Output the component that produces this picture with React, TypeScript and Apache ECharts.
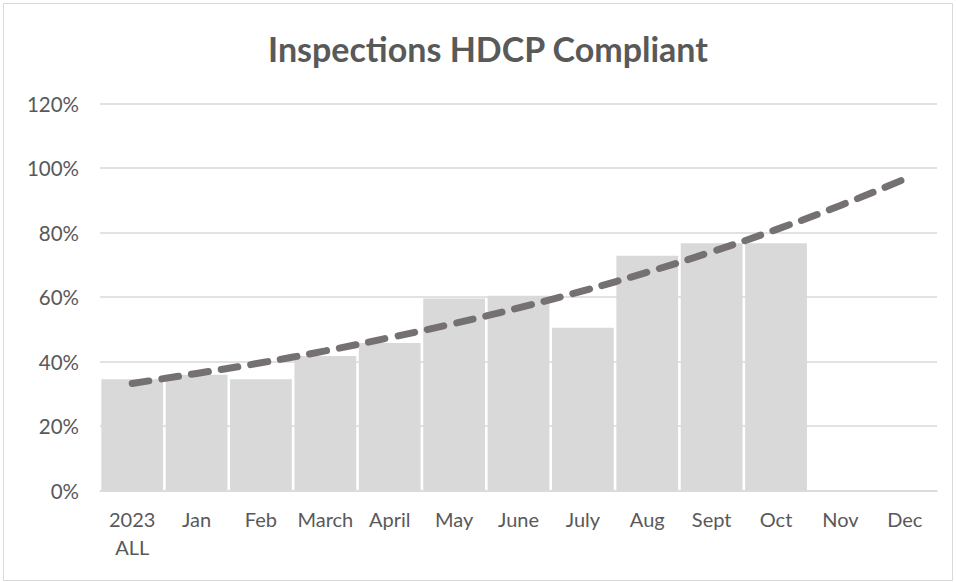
import React, { useEffect, useRef } from "react";
import * as echarts from "echarts";

const categories = ["2023\nALL", "Jan", "Feb", "March", "April", "May", "June", "July", "Aug", "Sept", "Oct", "Nov", "Dec"];
const compliant = [34.5, 35.9, 34.5, 41.7, 45.7, 59.5, 60.4, 50.5, 72.8, 76.7, 76.7, null, null];
const trend = [33.2, 36.3, 39.6, 43.3, 47.4, 51.8, 56.6, 61.9, 67.7, 74.0, 80.9, 88.4, 96.6];
const yTicks = [0, 20, 40, 60, 80, 100, 120];

export default function App() {
  const ref = useRef<HTMLDivElement>(null);
  useEffect(() => {
    if (!ref.current) return;
    const chart = echarts.init(ref.current, null, { renderer: "svg" });
    const font = "Lato, 'Noto Sans', sans-serif";
    chart.setOption({
      animation: false,
      backgroundColor: "#ffffff",
      title: {
        text: "Inspections HDCP Compliant",
        left: 483,
        textAlign: "center",
        top: 26,
        textStyle: { color: "#595959", fontSize: 34, fontWeight: "bold", fontFamily: font },
      },
      graphic: [
        {
          type: "rect",
          shape: { x: 3.5, y: 3.5, width: 949, height: 577 },
          style: { fill: "none", stroke: "#d9d9d9", lineWidth: 1 },
          silent: true,
        },
      ],
      grid: { left: 100, right: 19, top: 103.5, bottom: 91.5, containLabel: false },
      xAxis: {
        type: "category",
        data: categories,
        axisLine: { show: true, lineStyle: { color: "#d9d9d9", width: 1.5 } },
        axisTick: { show: false },
        axisLabel: { color: "#595959", fontSize: 20, fontFamily: font, margin: 14, lineHeight: 28, interval: 0 },
      },
      yAxis: {
        type: "value",
        min: 0,
        max: 120,
        interval: 20,
        axisLine: { show: false },
        axisTick: { show: false },
        splitLine: { lineStyle: { color: "#d9d9d9", width: 1.5 } },
        axisLabel: {
          color: "#595959",
          fontSize: 20.5,
          fontFamily: font,
          margin: 21,
          formatter: (v: number) => (yTicks.includes(v) ? v + "%" : ""),
        },
      },
      series: [
        {
          type: "bar",
          data: compliant,
          barCategoryGap: "4%",
          itemStyle: { color: "#d9d9d9" },
          z: 2,
        },
        {
          type: "line",
          data: trend,
          smooth: true,
          symbol: "none",
          lineStyle: { color: "#767171", width: 7, type: [17, 13], cap: "round" },
          z: 3,
        },
      ],
    });
    return () => chart.dispose();
  }, []);
  return (
    <div
      ref={ref}
      style={{ position: "absolute", left: 0, top: 0, width: 956, height: 582 }}
    />
  );
}
